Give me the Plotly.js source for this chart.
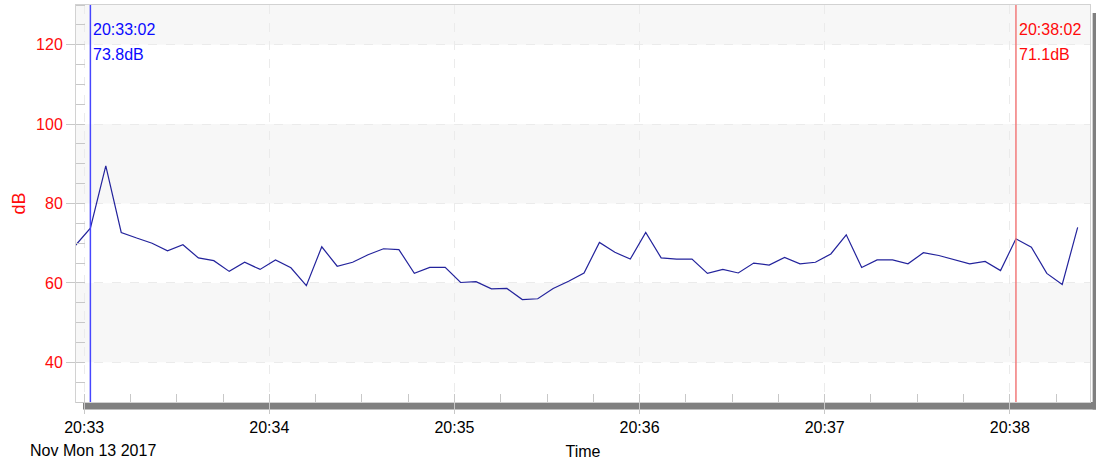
<!DOCTYPE html>
<html>
<head>
<meta charset="utf-8">
<script src="https://cdn.plot.ly/plotly-3.0.1.min.js"></script>
<style>
  html, body { margin: 0; padding: 0; background: #ffffff; }
  #chart { width: 1096px; height: 464px; }
</style>
</head>
<body>
<div id="chart"></div>
<script>
// Sound level readings, one every 5 seconds
const times = [
  '2017-11-13 20:32:57', '2017-11-13 20:33:02', '2017-11-13 20:33:07', '2017-11-13 20:33:12',
  '2017-11-13 20:33:17', '2017-11-13 20:33:22', '2017-11-13 20:33:27', '2017-11-13 20:33:32',
  '2017-11-13 20:33:37', '2017-11-13 20:33:42', '2017-11-13 20:33:47', '2017-11-13 20:33:52',
  '2017-11-13 20:33:57', '2017-11-13 20:34:02', '2017-11-13 20:34:07', '2017-11-13 20:34:12',
  '2017-11-13 20:34:17', '2017-11-13 20:34:22', '2017-11-13 20:34:27', '2017-11-13 20:34:32',
  '2017-11-13 20:34:37', '2017-11-13 20:34:42', '2017-11-13 20:34:47', '2017-11-13 20:34:52',
  '2017-11-13 20:34:57', '2017-11-13 20:35:02', '2017-11-13 20:35:07', '2017-11-13 20:35:12',
  '2017-11-13 20:35:17', '2017-11-13 20:35:22', '2017-11-13 20:35:27', '2017-11-13 20:35:32',
  '2017-11-13 20:35:37', '2017-11-13 20:35:42', '2017-11-13 20:35:47', '2017-11-13 20:35:52',
  '2017-11-13 20:35:57', '2017-11-13 20:36:02', '2017-11-13 20:36:07', '2017-11-13 20:36:12',
  '2017-11-13 20:36:17', '2017-11-13 20:36:22', '2017-11-13 20:36:27', '2017-11-13 20:36:32',
  '2017-11-13 20:36:37', '2017-11-13 20:36:42', '2017-11-13 20:36:47', '2017-11-13 20:36:52',
  '2017-11-13 20:36:57', '2017-11-13 20:37:02', '2017-11-13 20:37:07', '2017-11-13 20:37:12',
  '2017-11-13 20:37:17', '2017-11-13 20:37:22', '2017-11-13 20:37:27', '2017-11-13 20:37:32',
  '2017-11-13 20:37:37', '2017-11-13 20:37:42', '2017-11-13 20:37:47', '2017-11-13 20:37:52',
  '2017-11-13 20:37:57', '2017-11-13 20:38:02', '2017-11-13 20:38:07', '2017-11-13 20:38:12',
  '2017-11-13 20:38:17', '2017-11-13 20:38:22'
];

const levels = [
  69.3, 73.8, 89.5, 72.7,
  71.3, 70.0, 68.1, 69.6,
  66.3, 65.6, 62.9, 65.2,
  63.4, 65.8, 63.8, 59.3,
  69.1, 64.2, 65.2, 67.1,
  68.6, 68.4, 62.4, 63.9,
  63.9, 60.1, 60.3, 58.5,
  58.6, 55.8, 56.0, 58.6,
  60.4, 62.5, 70.2, 67.7,
  66.0, 72.7, 66.3, 66.0,
  66.0, 62.4, 63.4, 62.5,
  65.0, 64.5, 66.4, 64.8,
  65.2, 67.3, 72.1, 63.9,
  65.8, 65.8, 64.8, 67.6,
  66.9, 65.9, 64.8, 65.4,
  63.1, 71.1, 69.0, 62.4,
  59.6, 74.0
];

// Two cursors with their read-outs
const cursorTimes = ['2017-11-13 20:33:02', '2017-11-13 20:38:02'];
const cursorTimeLabels = ['20:33:02', '20:38:02'];
const cursorLevels = [73.8, 71.1];
const cursorColors = ['#4646ff', '#f27a7a'];
const cursorTextColors = ['#0a0aff', '#ff0a0a'];

const dateLabel = 'Nov Mon 13 2017';
const xRange = ['2017-11-13 20:32:57.34', '2017-11-13 20:38:26.0'];
const yRange = [30, 130];
const bandRanges = [[120, 130], [80, 100], [40, 60]];

const font = 'Liberation Sans, Arial, Helvetica, sans-serif';

const trace = {
  x: times,
  y: levels,
  type: 'scatter',
  mode: 'lines',
  line: { color: '#23239c', width: 1.2 },
  hoverinfo: 'skip'
};

const shapes = [];
// light shaded bands
bandRanges.forEach(b => {
  shapes.push({
    type: 'rect', xref: 'paper', yref: 'y', x0: 0, x1: 1, y0: b[0], y1: b[1],
    fillcolor: '#f7f7f7', line: { width: 0 }, layer: 'below'
  });
});
// drop shadow along the bottom and right edge of the frame
shapes.push({
  type: 'rect', xref: 'paper', yref: 'paper',
  x0: 0.0069, x1: 1.0197, y0: -0.0189, y1: 0,
  fillcolor: '#808080', line: { width: 0 }, layer: 'below'
});
shapes.push({
  type: 'rect', xref: 'paper', yref: 'paper',
  x0: 1.0026, x1: 1.0197, y0: -0.0189, y1: 0.980,
  fillcolor: '#808080', line: { width: 0 }, layer: 'below'
});
// cursor lines
cursorTimes.forEach((t, i) => {
  shapes.push({
    type: 'line', xref: 'x', yref: 'paper', x0: t, x1: t, y0: 0, y1: 1,
    line: { color: cursorColors[i], width: 1.5 }, layer: 'above'
  });
});

const annotations = [];
cursorTimes.forEach((t, i) => {
  annotations.push({
    xref: 'x', yref: 'paper', x: t, y: 0.938, xanchor: 'left', yanchor: 'middle',
    xshift: 1, text: cursorTimeLabels[i], showarrow: false,
    font: { family: font, size: 16, color: cursorTextColors[i] }
  });
  annotations.push({
    xref: 'x', yref: 'paper', x: t, y: 0.876, xanchor: 'left', yanchor: 'middle',
    xshift: 1, text: cursorLevels[i].toFixed(1) + 'dB', showarrow: false,
    font: { family: font, size: 16, color: cursorTextColors[i] }
  });
});
annotations.push({
  xref: 'paper', yref: 'paper', x: 0.0171, y: -0.123, xanchor: 'center', yanchor: 'middle',
  text: dateLabel, showarrow: false,
  font: { family: font, size: 16, color: '#000000' }
});

const layout = {
  width: 1096,
  height: 464,
  margin: { l: 76, r: 6, t: 5, b: 62, pad: 0 },
  paper_bgcolor: '#ffffff',
  plot_bgcolor: '#ffffff',
  showlegend: false,
  font: { family: font },
  hovermode: false,
  xaxis: {
    type: 'date',
    range: xRange,
    tick0: '2017-11-13 20:33:00',
    dtick: 60000,
    tickformat: '%H:%M',
    ticks: 'outside',
    ticklen: 11,
    tickcolor: '#c8c8c8',
    tickfont: { family: font, size: 16, color: '#000000' },
    showgrid: true,
    gridcolor: '#ebebeb',
    griddash: 'dash',
    gridwidth: 1,
    zeroline: false,
    showline: true,
    linecolor: '#d2d2d2',
    mirror: true,
    minor: { dtick: 15000, ticks: 'inside', ticklen: 8, tickcolor: '#c8c8c8', showgrid: false },
    title: { text: 'Time', font: { family: font, size: 16, color: '#000000' }, standoff: 10 }
  },
  yaxis: {
    range: yRange,
    tick0: 0,
    dtick: 20,
    ticks: 'outside',
    ticklen: 9,
    tickcolor: '#c8c8c8',
    tickfont: { family: font, size: 16, color: '#ff0a0a' },
    showgrid: true,
    gridcolor: '#ebebeb',
    griddash: 'dash',
    gridwidth: 1,
    zeroline: false,
    showline: true,
    linecolor: '#d2d2d2',
    mirror: true,
    minor: { dtick: 5, ticks: 'inside', ticklen: 9, tickcolor: '#c8c8c8', showgrid: false },
    title: { text: 'dB', font: { family: font, size: 18, color: '#ff0a0a' }, standoff: 5 }
  },
  shapes: shapes,
  annotations: annotations
};

Plotly.newPlot('chart', [trace], layout, { displayModeBar: false, staticPlot: true });
</script>
</body>
</html>
